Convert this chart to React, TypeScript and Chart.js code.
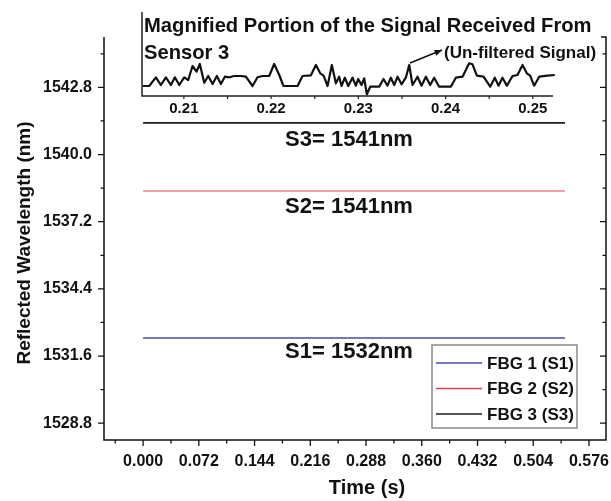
import { useEffect, useRef } from 'react';
import { Chart, registerables } from 'chart.js';

Chart.register(...registerables);

// ---- main traces: reflected wavelength of each FBG over the capture window ----
const timeSpan = [0, 0.545];
const fbg1 = [1532.35, 1532.35];
const fbg2 = [1538.48, 1538.48];
const fbg3 = [1541.32, 1541.32];
const seriesLabels = ['FBG 1 (S1)', 'FBG 2 (S2)', 'FBG 3 (S3)'];
const seriesColors = ['#4a4aa6', '#d9464e', '#1c1c1c'];
const sensorNotes = ['S1= 1532nm', 'S2= 1541nm', 'S3= 1541nm'];

const timeTicks = [0, 0.072, 0.144, 0.216, 0.288, 0.36, 0.432, 0.504, 0.576];
const wavelengthTicks = [1528.8, 1531.6, 1534.4, 1537.2, 1540.0, 1542.8];

// ---- zoomed-in raw signal of sensor 3 (offset in pm from 1541.34 nm) ----
const insetTime = [
  0.20526, 0.20603, 0.20679, 0.20736, 0.20794, 0.20851, 0.20897, 0.20947, 0.21004, 0.2105,
  0.21099, 0.21145, 0.21183, 0.21233, 0.21279, 0.21329, 0.21378, 0.21424, 0.2147, 0.2152,
  0.21577, 0.21653, 0.21711, 0.21787, 0.21844, 0.21902, 0.21978, 0.22035, 0.22093, 0.22142,
  0.22303, 0.2236, 0.22456, 0.22513, 0.22563, 0.22601, 0.22647, 0.22696, 0.22742, 0.2278,
  0.22807, 0.22845, 0.22884, 0.22933, 0.22971, 0.22998, 0.23036, 0.23067, 0.23097, 0.23136,
  0.23239, 0.23288, 0.23334, 0.23372, 0.23411, 0.23449, 0.23495, 0.23544, 0.23583, 0.23621,
  0.23678, 0.23724, 0.23774, 0.23823, 0.23869, 0.23926, 0.2406, 0.24117, 0.24194, 0.2427,
  0.24308, 0.24358, 0.24435, 0.24511, 0.24564, 0.24607, 0.24652, 0.24702, 0.24767, 0.24824,
  0.24882, 0.24931, 0.24969, 0.25015, 0.25073, 0.25168, 0.25252,
];
const insetOffsetPm = [
  0, 0, 8.7, 1, 8.7, 1, 8.7, 1, 8.7, 6,
  20, 14.3, 22, 3.3, 10, 2, 10, 2, 9.3, 8.7,
  10, 10, 9.3, 0, 8.7, 10, 10, 22, 11, 0,
  0, 10, 10.7, 21, 12.7, 10.3, 0, 21, 2.7, 9.3,
  0, 8.3, 0, 8.3, 0.3, 7, 1, 7.7, -8.3, -0.7,
  -0.7, 7, 0.3, 8.3, 1, 9.3, 1.7, 8.3, 21, 1,
  9.3, 0.3, 9.3, 1, 8.3, -0.7, -0.7, 8.3, 9.3, 22.7,
  21.7, 10.3, 9.3, -0.7, 8.3, 0.3, 8.3, 0.3, 10, 11,
  21, 12.7, 10.3, 0.3, 9.3, 10.3, 11,
];
const insetBaseNm = 1541.34;
const insetTicks = [0.21, 0.22, 0.23, 0.24, 0.25];
const insetTitle = ['Magnified Portion of the Signal Received From', 'Sensor 3'];
const insetNote = '(Un-filtered Signal)';

const FONT = '"Liberation Sans", Arial, Helvetica, sans-serif';
const W = 611;
const H = 501;

const minorsOf = (majors: number[], min: number, max: number) => {
  const step = majors[1] - majors[0];
  const out: number[] = [];
  for (let i = -1; i < majors.length; i++) {
    const v = (i < 0 ? majors[0] - step : majors[i]) + step / 2;
    if (v >= min && v <= max) out.push(v);
  }
  return out;
};

const mainDecor = {
  id: 'mainDecor',
  afterDraw(chart: any) {
    const { ctx, chartArea: a } = chart;
    const x = chart.scales.x;
    const y = chart.scales.y;
    ctx.save();
    ctx.strokeStyle = '#111';
    ctx.lineWidth = 1.5;
    ctx.beginPath();
    ctx.moveTo(a.left, a.top);
    ctx.lineTo(a.left, a.bottom);
    ctx.lineTo(a.right, a.bottom);
    ctx.lineTo(a.right, a.top);
    ctx.lineTo(a.right - 5, a.top);
    ctx.stroke();

    ctx.lineWidth = 1.3;
    ctx.beginPath();
    timeTicks.forEach((v) => {
      const px = x.getPixelForValue(v);
      ctx.moveTo(px, a.bottom);
      ctx.lineTo(px, a.bottom + 6);
    });
    minorsOf(timeTicks, x.min, x.max).forEach((v) => {
      const px = x.getPixelForValue(v);
      ctx.moveTo(px, a.bottom);
      ctx.lineTo(px, a.bottom + 3.5);
    });
    wavelengthTicks.forEach((v) => {
      const py = y.getPixelForValue(v);
      ctx.moveTo(a.left, py);
      ctx.lineTo(a.left - 6, py);
      ctx.moveTo(a.right, py);
      ctx.lineTo(a.right - 6, py);
    });
    minorsOf(wavelengthTicks, y.min, y.max).forEach((v) => {
      const py = y.getPixelForValue(v);
      ctx.moveTo(a.left, py);
      ctx.lineTo(a.left - 3.5, py);
      ctx.moveTo(a.right, py);
      ctx.lineTo(a.right - 3.5, py);
    });
    ctx.stroke();

    // sensor notes under each trace
    ctx.fillStyle = '#111';
    ctx.font = `bold 22px ${FONT}`;
    ctx.textAlign = 'center';
    ctx.textBaseline = 'middle';
    const noteX = (a.left + a.right) / 2 - 6;
    ctx.fillText(sensorNotes[2], noteX, y.getPixelForValue(fbg3[0]) + 17);
    ctx.fillText(sensorNotes[1], noteX, y.getPixelForValue(fbg2[0]) + 16);
    ctx.fillText(sensorNotes[0], noteX, y.getPixelForValue(fbg1[0]) + 14);

    // axis titles
    ctx.font = `bold 20px ${FONT}`;
    ctx.fillText('Time (s)', 367, 488);
    ctx.save();
    ctx.translate(25, 243);
    ctx.rotate(-Math.PI / 2);
    ctx.font = `bold 19px ${FONT}`;
    ctx.fillText('Reflected Wavelength (nm)', 0, 0);
    ctx.restore();

    // legend
    const lx = 432;
    const ly = 345;
    const lw = 145;
    const lh = 83;
    ctx.fillStyle = '#fff';
    ctx.fillRect(lx, ly, lw, lh);
    ctx.strokeStyle = '#8a8a8a';
    ctx.lineWidth = 1.5;
    ctx.strokeRect(lx, ly, lw, lh);
    ctx.font = `bold 17px ${FONT}`;
    ctx.textAlign = 'left';
    ctx.textBaseline = 'middle';
    seriesLabels.forEach((label, i) => {
      const ry = ly + 18 + i * 25.5;
      ctx.strokeStyle = seriesColors[i];
      ctx.lineWidth = 1.5;
      ctx.beginPath();
      ctx.moveTo(lx + 4, ry);
      ctx.lineTo(lx + 50, ry);
      ctx.stroke();
      ctx.fillStyle = '#111';
      ctx.fillText(label, lx + 55, ry + 1);
    });
    ctx.restore();
  },
};

const insetDecor = {
  id: 'insetDecor',
  afterDraw(chart: any) {
    const { ctx, chartArea: a } = chart;
    const x = chart.scales.x;
    ctx.save();
    ctx.strokeStyle = '#222';
    ctx.lineWidth = 1.5;
    ctx.beginPath();
    ctx.moveTo(a.left, 12);
    ctx.lineTo(a.left, a.bottom);
    ctx.lineTo(a.right, a.bottom);
    ctx.stroke();

    ctx.lineWidth = 1.2;
    ctx.beginPath();
    [...insetTicks, ...minorsOf(insetTicks, x.min, x.max)].forEach((v) => {
      const px = x.getPixelForValue(v);
      ctx.moveTo(px, a.bottom);
      ctx.lineTo(px, a.bottom + 3);
    });
    ctx.stroke();

    ctx.fillStyle = '#111';
    ctx.font = `bold 15px ${FONT}`;
    ctx.textAlign = 'center';
    ctx.textBaseline = 'middle';
    insetTicks.forEach((v) => {
      ctx.fillText(v.toFixed(2), x.getPixelForValue(v), a.bottom + 13);
    });

    ctx.textAlign = 'left';
    ctx.textBaseline = 'alphabetic';
    ctx.font = `bold 20.2px ${FONT}`;
    ctx.fillText(insetTitle[0], a.left + 2, 32);
    ctx.fillText(insetTitle[1], a.left + 2, 59);
    ctx.font = `bold 17px ${FONT}`;
    ctx.fillText(insetNote, 444, 58);

    // pointer from the note to the raw trace
    const x0 = 410;
    const y0 = 63;
    const x1 = 442;
    const y1 = 50;
    const ang = Math.atan2(y1 - y0, x1 - x0);
    ctx.strokeStyle = '#111';
    ctx.lineWidth = 1.5;
    ctx.beginPath();
    ctx.moveTo(x0, y0);
    ctx.lineTo(x1, y1);
    ctx.stroke();
    ctx.beginPath();
    ctx.moveTo(x1, y1);
    ctx.lineTo(x1 - 8 * Math.cos(ang - 0.4), y1 - 8 * Math.sin(ang - 0.4));
    ctx.lineTo(x1 - 8 * Math.cos(ang + 0.4), y1 - 8 * Math.sin(ang + 0.4));
    ctx.closePath();
    ctx.fill();
    ctx.restore();
  },
};

export default function App() {
  const mainRef = useRef<HTMLCanvasElement>(null);
  const insetRef = useRef<HTMLCanvasElement>(null);

  useEffect(() => {
    const series = [fbg1, fbg2, fbg3];
    const main = new Chart(mainRef.current as HTMLCanvasElement, {
      type: 'line',
      data: {
        datasets: series.map((vals, i) => ({
          label: seriesLabels[i],
          data: timeSpan.map((t, k) => ({ x: t, y: vals[k] })),
          borderColor: seriesColors[i],
          borderWidth: i === 1 ? 1.2 : 1.6,
          pointRadius: 0,
          fill: false,
        })),
      },
      options: {
        responsive: false,
        animation: false,
        devicePixelRatio: 1,
        layout: { padding: { top: 37, right: 5, left: 0, bottom: 0 } },
        plugins: { legend: { display: false }, tooltip: { enabled: false } },
        scales: {
          x: {
            type: 'linear',
            min: -0.0505,
            max: 0.598,
            grid: { display: false, drawTicks: false },
            border: { display: false },
            afterBuildTicks: (s: any) => {
              s.ticks = timeTicks.map((v) => ({ value: v }));
            },
            afterFit: (s: any) => {
              s.height = 61;
              s.paddingLeft = 0;
              s.paddingRight = 0;
            },
            ticks: {
              padding: 12,
              autoSkip: false,
              maxRotation: 0,
              color: '#111',
              font: { family: FONT, size: 16, weight: 'bold' },
              callback: (v: any) => Number(v).toFixed(3),
            },
          },
          y: {
            type: 'linear',
            min: 1528.1,
            max: 1544.9,
            grid: { display: false, drawTicks: false },
            border: { display: false },
            afterBuildTicks: (s: any) => {
              s.ticks = wavelengthTicks.map((v) => ({ value: v }));
            },
            afterFit: (s: any) => {
              s.width = 104;
              s.paddingTop = 0;
              s.paddingBottom = 0;
            },
            ticks: {
              padding: 12,
              autoSkip: false,
              color: '#111',
              font: { family: FONT, size: 16, weight: 'bold' },
              callback: (v: any) => Number(v).toFixed(1),
            },
          },
        },
      },
      plugins: [mainDecor],
    });

    const inset = new Chart(insetRef.current as HTMLCanvasElement, {
      type: 'line',
      data: {
        datasets: [
          {
            label: 'FBG 3 raw',
            data: insetTime.map((t, i) => ({ x: t, y: insetBaseNm + insetOffsetPm[i] / 1000 })),
            borderColor: '#111',
            borderWidth: 2.2,
            borderJoinStyle: 'round',
            pointRadius: 0,
            tension: 0,
            fill: false,
            clip: false,
          },
        ],
      },
      options: {
        responsive: false,
        animation: false,
        devicePixelRatio: 1,
        layout: { padding: { top: 10, right: 58, left: 142, bottom: 405 } },
        plugins: { legend: { display: false }, tooltip: { enabled: false } },
        scales: {
          x: {
            type: 'linear',
            min: 0.2052,
            max: 0.25231,
            grid: { display: false, drawTicks: false },
            border: { display: false },
            ticks: { display: false },
            afterFit: (s: any) => {
              s.height = 0;
              s.paddingLeft = 0;
              s.paddingRight = 0;
            },
          },
          y: {
            type: 'linear',
            display: false,
            min: insetBaseNm - 0.01,
            max: insetBaseNm + 0.076,
          },
        },
      },
      plugins: [insetDecor],
    });

    return () => {
      main.destroy();
      inset.destroy();
    };
  }, []);

  return (
    <div style={{ position: 'fixed', left: 0, top: 0, width: W, height: H, background: '#fff' }}>
      <canvas
        ref={mainRef}
        width={W}
        height={H}
        style={{ position: 'absolute', left: 0, top: 0, width: W, height: H }}
      />
      <canvas
        ref={insetRef}
        width={W}
        height={H}
        style={{ position: 'absolute', left: 0, top: 0, width: W, height: H }}
      />
    </div>
  );
}
